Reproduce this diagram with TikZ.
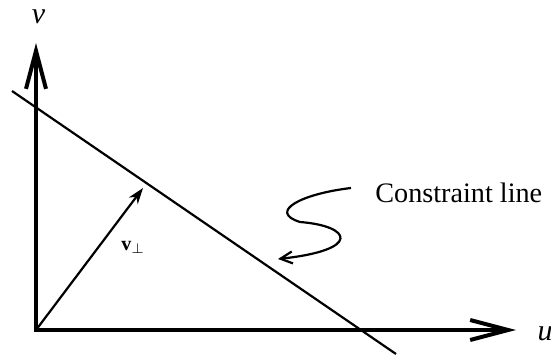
\documentclass[tikz,border=0pt]{standalone}
\usepackage{fontspec}
\setmainfont{Liberation Serif}
\usetikzlibrary{arrows.meta, positioning}
\tikzset{
  axes/.style={line width=1.7pt, line join=miter,
    {Straight Barb[length=19pt, width=10pt, line width=2pt]}-{Straight Barb[length=19pt, width=10pt, line width=2pt]}},
  cline/.style={line width=1.1pt},
  vecarr/.style={line width=1.1pt, -{Stealth[length=8pt, width=5.5pt, inset=2.5pt]}},
  notearr/.style={line width=1.1pt, -{Straight Barb[length=6pt, width=6pt, line width=1.1pt]}},
  axislabel/.style={inner sep=0pt, font=\fontsize{15}{18}\selectfont\itshape},
  veclabel/.style={inner sep=0pt, font=\fontsize{10}{12}\selectfont},
  notelabel/.style={inner sep=0pt, anchor=base west, font=\fontsize{14.1}{17}\selectfont}
}
\begin{document}
\begin{tikzpicture}[x=0.5pt, y=-0.5pt]
  \useasboundingbox (0,0) rectangle (551,354);

  % axes
  \coordinate (O)    at (36,330);
  \coordinate (vtop) at (36,43);
  \coordinate (uend) at (516,330);
  \draw[axes] (vtop) -- (O) -- (uend);
  \node[axislabel] (vlabel) at (38.5,17) {v};
  \node[axislabel] (ulabel) at (545,334) {u};

  % constraint line
  \coordinate (cl1) at (12,91);
  \coordinate (cl2) at (396,354);
  \draw[cline] (cl1) -- (cl2);

  % v perp
  \coordinate (vtip) at (143,188);
  \draw[vecarr] (O) -- (vtip);
  \node[veclabel] (vperp) at (133,247) {\textbf{v}$_{\perp}$};

  % note
  \node[notelabel] (note) at (375,202) {Constraint line};
  \coordinate (s0) at (351,188);
  \coordinate (s1) at (300,222);
  \coordinate (s2) at (278,259);
  \draw[notearr] (s0) .. controls (300,194) and (268,212) .. (s1)
                      .. controls (352,226) and (362,250) .. (s2);

\end{tikzpicture}
\end{document}
